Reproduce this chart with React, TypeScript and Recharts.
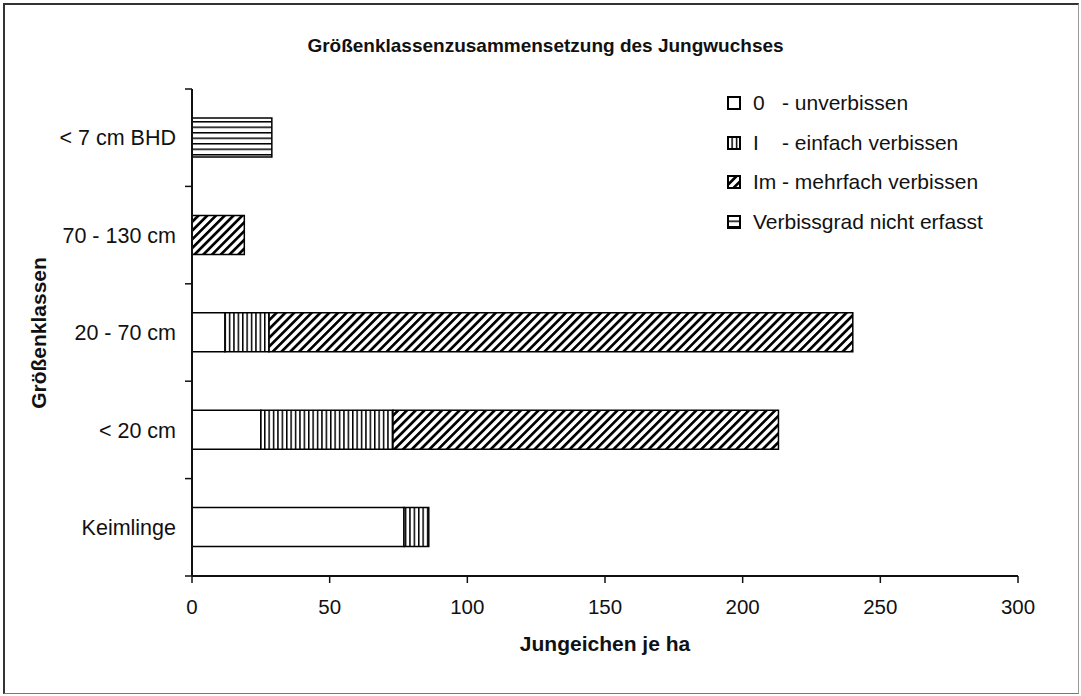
import { Bar, BarChart, XAxis, YAxis } from 'recharts'

const categories = ['< 7 cm BHD', '70 - 130 cm', '20 - 70 cm', '< 20 cm', 'Keimlinge']
const unverbissen = [0, 0, 12, 25, 77]
const einfach = [0, 0, 16, 48, 9]
const mehrfach = [0, 19, 212, 140, 0]
const nichtErfasst = [29, 0, 0, 0, 0]
const xTicks = [0, 50, 100, 150, 200, 250, 300]

const seriesKeys = ['unverbissen', 'einfach', 'mehrfach', 'nichtErfasst']
const seriesCodes = ['0', 'I', 'Im', '']
const seriesNames = ['- unverbissen', '- einfach verbissen', '- mehrfach verbissen', 'Verbissgrad nicht erfasst']
const seriesPatterns = ['pat-white', 'pat-vert', 'pat-diag', 'pat-horiz']

const data = categories.map((name, i) => ({
  name,
  unverbissen: unverbissen[i],
  einfach: einfach[i],
  mehrfach: mehrfach[i],
  nichtErfasst: nichtErfasst[i],
}))

const W = 1081
const H = 696
const PLOT_LEFT = 192
const PLOT_RIGHT = 1018
const PLOT_TOP = 89
const PLOT_BOTTOM = 576
const FONT = '"Liberation Sans", Arial, Helvetica, sans-serif'
const INK = '#111'

// half a category band, used to put y tick marks between the categories
const HALF_BAND = (PLOT_BOTTOM - PLOT_TOP) / categories.length / 2

function YTick(props: any) {
  const { x, y, payload, index } = props
  const axisX = x + 16
  return (
    <g>
      <text x={x} y={y} dy="0.36em" textAnchor="end" fontSize={21.5} fill={INK} fontFamily={FONT}>
        {payload.value}
      </text>
      <line x1={axisX - 7} x2={axisX} y1={y - HALF_BAND} y2={y - HALF_BAND} stroke={INK} strokeWidth={1.5} />
      {index === categories.length - 1 && (
        <line x1={axisX - 7} x2={axisX} y1={y + HALF_BAND} y2={y + HALF_BAND} stroke={INK} strokeWidth={1.5} />
      )}
    </g>
  )
}

function Patterns() {
  return (
    <svg width={0} height={0} style={{ position: 'absolute' }}>
      <defs>
        <pattern id="pat-white" patternUnits="userSpaceOnUse" width={4} height={4}>
          <rect width={4} height={4} fill="#fff" />
        </pattern>
        <pattern id="pat-vert" patternUnits="userSpaceOnUse" width={4.4} height={10}>
          <rect width={4.4} height={10} fill="#fff" />
          <rect x={0} width={1.5} height={10} fill="#000" />
        </pattern>
        <pattern id="pat-diag" patternUnits="userSpaceOnUse" width={6.2} height={10} patternTransform="rotate(45)">
          <rect width={6.2} height={10} fill="#fff" />
          <rect x={0} width={2.7} height={10} fill="#000" />
        </pattern>
        <pattern id="pat-horiz" patternUnits="userSpaceOnUse" width={10} height={5.5}>
          <rect width={10} height={5.5} fill="#fff" />
          <rect y={0} width={10} height={1.5} fill="#000" />
        </pattern>
      </defs>
    </svg>
  )
}

function LegendBox() {
  return (
    <div style={{ position: 'absolute', left: 727, top: 83, fontFamily: FONT, fontSize: 21, color: INK }}>
      {seriesKeys.map((key, i) => (
        <div key={key} style={{ display: 'flex', alignItems: 'center', height: 39.7 }}>
          <svg width={14} height={14} style={{ marginRight: 12 }}>
            <rect x={1} y={1} width={12} height={12} fill={`url(#${seriesPatterns[i]})`} stroke="#000" strokeWidth={2} />
          </svg>
          {seriesCodes[i] ? (
            <>
              <span style={{ width: 29, display: 'inline-block' }}>{seriesCodes[i]}</span>
              <span>{seriesNames[i]}</span>
            </>
          ) : (
            <span>{seriesNames[i]}</span>
          )}
        </div>
      ))}
    </div>
  )
}

export default function App() {
  return (
    <div style={{ position: 'absolute', left: 0, top: 0, width: W, height: H, background: '#fff', fontFamily: FONT }}>
      <Patterns />
      {/* outer frame of the figure */}
      <div
        style={{
          position: 'absolute',
          left: 3,
          top: 3,
          width: 1073,
          height: 688,
          borderTop: '2px solid #333',
          borderLeft: '2px solid #333',
          borderRight: '1.5px solid #999',
          borderBottom: '1.5px solid #777',
        }}
      />
      <div
        style={{
          position: 'absolute',
          left: 0,
          width: W,
          top: 35,
          textAlign: 'center',
          fontWeight: 'bold',
          fontSize: 19,
          color: INK,
          paddingLeft: 5,
        }}
      >
        Größenklassenzusammensetzung des Jungwuchses
      </div>
      <BarChart
        style={{ position: 'absolute', left: 0, top: 0 }}
        width={W}
        height={H}
        data={data}
        layout="vertical"
        margin={{ top: PLOT_TOP, right: W - PLOT_RIGHT, bottom: 60, left: 0 }}
      >
        <XAxis
          type="number"
          domain={[0, 300]}
          ticks={xTicks}
          interval={0}
          height={H - PLOT_BOTTOM - 60}
          tickSize={7}
          tickMargin={16}
          axisLine={{ stroke: INK, strokeWidth: 2 }}
          tickLine={{ stroke: INK, strokeWidth: 1.5 }}
          tick={{ fontSize: 20.5, fill: INK, fontFamily: FONT }}
        />
        <XAxis
          xAxisId="frame"
          orientation="top"
          type="number"
          domain={[0, 300]}
          height={0}
          tick={false}
          tickLine={false}
          axisLine={{ stroke: '#333', strokeWidth: 2 }}
        />
        <YAxis
          type="category"
          dataKey="name"
          width={PLOT_LEFT}
          tickSize={0}
          tickMargin={16}
          tickLine={false}
          interval={0}
          axisLine={{ stroke: INK, strokeWidth: 2 }}
          tick={<YTick />}
        />
        <YAxis
          yAxisId="frame"
          orientation="right"
          type="category"
          dataKey="name"
          width={0}
          tick={false}
          tickLine={false}
          axisLine={{ stroke: '#333', strokeWidth: 2 }}
        />
        {seriesKeys.map((key, i) => (
          <Bar
            key={key}
            dataKey={key}
            stackId="a"
            barSize={39}
            fill={`url(#${seriesPatterns[i]})`}
            stroke="#000"
            strokeWidth={1.5}
            isAnimationActive={false}
          />
        ))}
      </BarChart>
      <LegendBox />
      <div
        style={{
          position: 'absolute',
          left: PLOT_LEFT,
          width: PLOT_RIGHT - PLOT_LEFT,
          top: 632,
          textAlign: 'center',
          fontWeight: 'bold',
          fontSize: 21,
          color: INK,
        }}
      >
        Jungeichen je ha
      </div>
      <div
        style={{
          position: 'absolute',
          left: 39,
          top: (PLOT_TOP + PLOT_BOTTOM) / 2,
          transform: 'translate(-50%, -50%) rotate(-90deg)',
          fontWeight: 'bold',
          fontSize: 21,
          color: INK,
          whiteSpace: 'nowrap',
        }}
      >
        Größenklassen
      </div>
    </div>
  )
}
